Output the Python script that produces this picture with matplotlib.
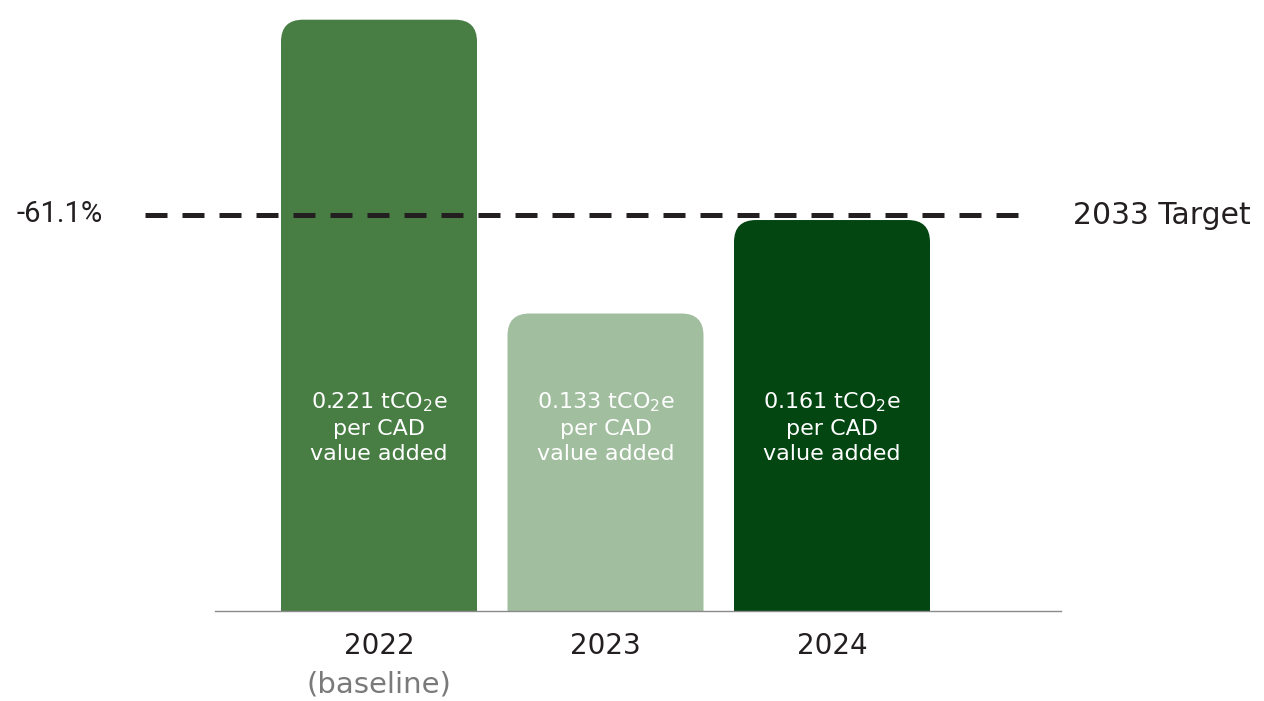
import matplotlib
matplotlib.use("Agg")
import matplotlib.pyplot as plt
from matplotlib.patches import FancyBboxPatch
from matplotlib.transforms import blended_transform_factory

plt.rcParams['font.family'] = ['DejaVu Sans']
plt.rcParams['mathtext.fontset'] = 'dejavusans'
plt.rcParams['mathtext.default'] = 'regular'

# Emission intensity per year (tCO2e per CAD value added)
years = ["2022", "2023", "2024"]
sublabels = ["(baseline)", "", ""]
values = [0.221, 0.133, 0.161]
value_labels = ["0.221 tCO$_2$e", "0.133 tCO$_2$e", "0.161 tCO$_2$e"]
bar_colors = ["#487d44", "#a1be9f", "#034612"]
target_value = 0.1625
target_pct = "-61.1%"
target_label = "2033 Target"
y_range = (0.0439, 0.2269)

W, H = 1264, 701
fig = plt.figure(figsize=(W / 100, H / 100), dpi=100)
ax = fig.add_axes([215 / W, (H - 611) / H, (1061 - 215) / W, 611 / H])

step_px = 226.5
x_lo = (215 - 379) / step_px
x_hi = (1061 - 379) / step_px
ax.set_xlim(x_lo, x_hi)
ax.set_ylim(*y_range)
for s in ax.spines.values():
    s.set_visible(False)
ax.set_xticks([])
ax.set_yticks([])
ax.patch.set_alpha(0)

# pixel-to-data scale factors
xu = (x_hi - x_lo) / (1061 - 215)
yu = (y_range[1] - y_range[0]) / 611

# y in figure pixels from the top
def px_y(py):
    return 1 - py / H

xdata_yfig = blended_transform_factory(ax.transData, fig.transFigure)

bar_w = 196 * xu
radius_px = 22
for i, (v, c) in enumerate(zip(values, bar_colors)):
    bottom = 0.0
    patch = FancyBboxPatch(
        (i - bar_w / 2, bottom), bar_w, v - bottom,
        boxstyle=f"round,pad=0,rounding_size={radius_px * xu}",
        mutation_aspect=yu / xu,
        facecolor=c, edgecolor="none", clip_on=True, zorder=2)
    ax.add_patch(patch)
    lab = value_labels[i] + "\nper CAD\nvalue added"
    ax.text(i, px_y(427), lab, color="white", fontsize=16, ha="center",
            va="center", linespacing=1.33, zorder=4, transform=xdata_yfig)

# baseline axis line
ax.axhline(y_range[0], color="#8a8a8a", lw=1.0, zorder=3, clip_on=False)

# target dashed line
ax.plot([(145 - 379) / step_px, (1027 - 379) / step_px], [target_value, target_value],
        color="#231f20", lw=3.6, dashes=(4.4, 3.0), solid_capstyle="butt",
        dash_capstyle="butt", clip_on=False, zorder=5)

# side labels for the target
fig.text(103 / W, px_y(214), target_pct, ha="right", va="center",
         fontsize=21, color="#231f20", family=["Roboto", "DejaVu Sans"])
fig.text(1073 / W, px_y(215), target_label, ha="left", va="center",
         fontsize=21.5, color="#231f20")

# category labels under the bars
for i, (yr, sub) in enumerate(zip(years, sublabels)):
    ax.text(i, px_y(646), yr, ha="center", va="center", fontsize=20,
            color="#231f20", transform=xdata_yfig)
    if sub:
        ax.text(i, px_y(684), sub, ha="center", va="center", fontsize=21,
                color="#7a7a7a", transform=xdata_yfig)

fig.savefig("out.png", dpi=100)
